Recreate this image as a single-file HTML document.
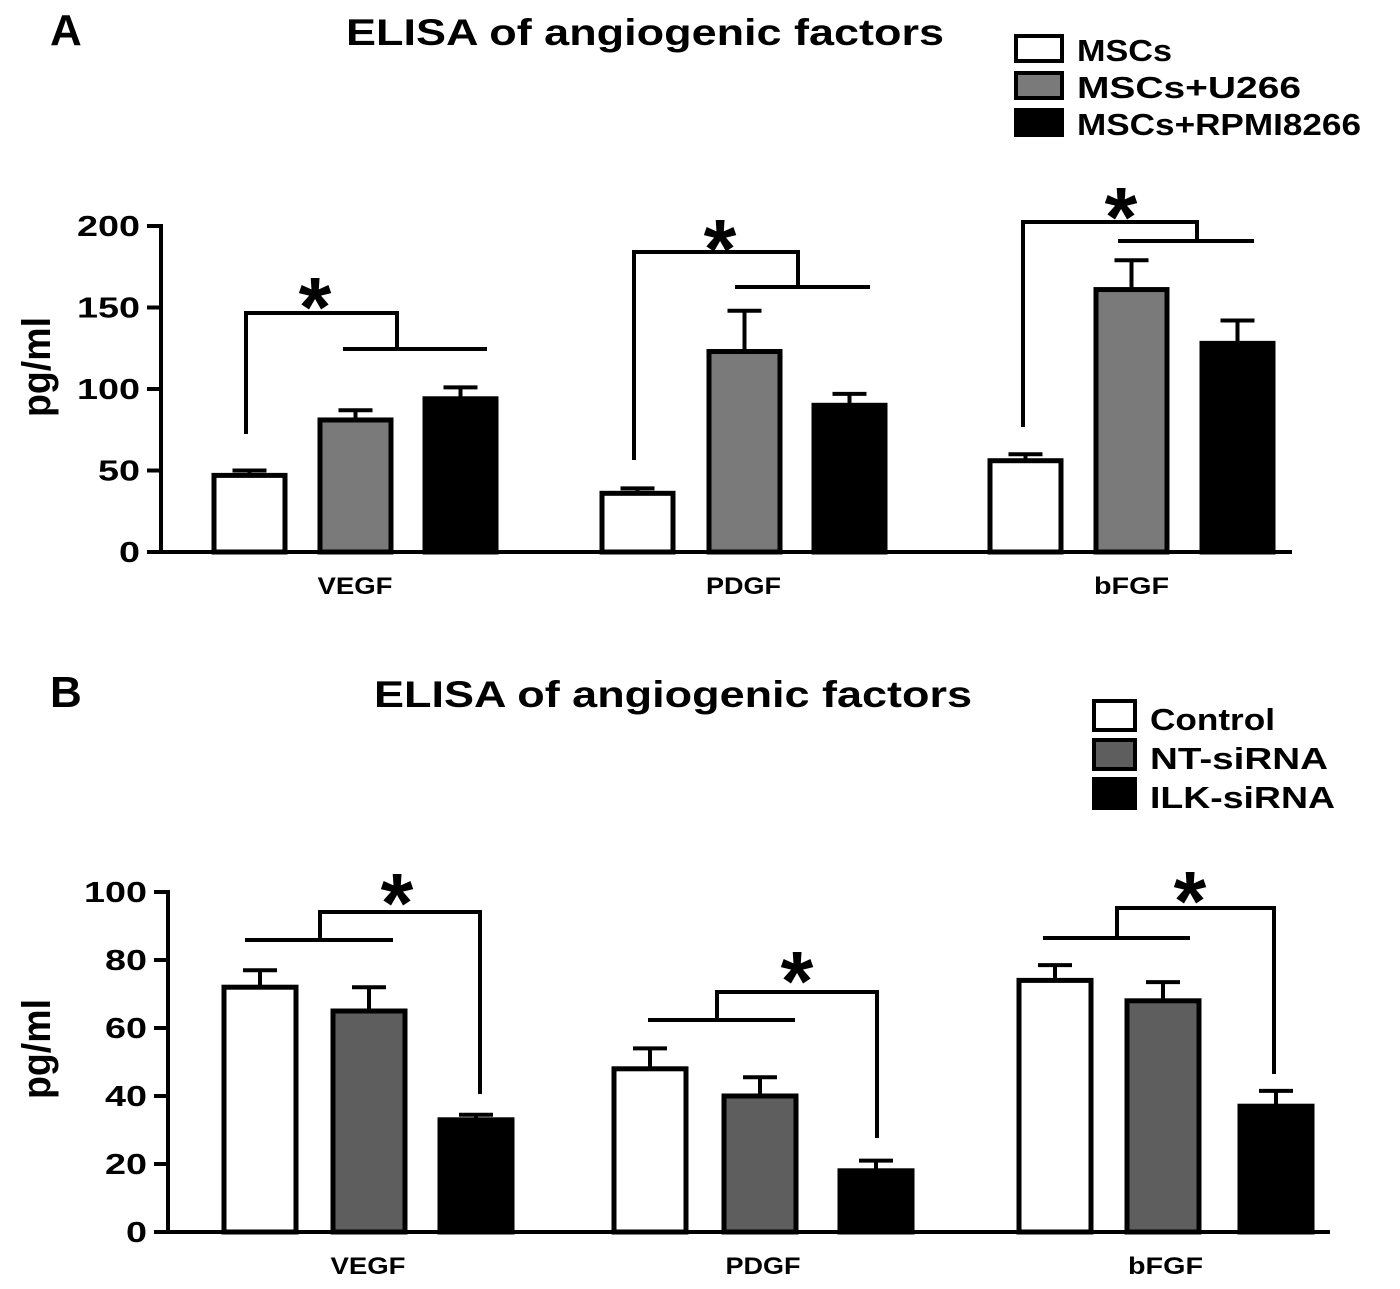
<!DOCTYPE html>
<html><head><meta charset="utf-8"><style>
body{margin:0;background:#fff}
svg text{font-family:"Liberation Sans",Arial,sans-serif;font-weight:bold}
</style></head><body>
<svg width="1400" height="1284" viewBox="0 0 1400 1284">
<g id="gA"></g>
<g id="gB"></g>
</svg>
<script>
const categories = ["VEGF","PDGF","bFGF"];
const aTicks = [0,50,100,150,200];
const aMSC = [47,36,56];
const aU266 = [81,123,161];
const aRPMI = [94,90,128];
const aMSCerr = [3,3,4];
const aU266err = [6,25,18];
const aRPMIerr = [7,7,14];
const bTicks = [0,20,40,60,80,100];
const bCtrl = [72,48,74];
const bNT = [65,40,68];
const bILK = [33,18,37];
const bCtrlErr = [5,6,4.5];
const bNTErr = [7,5.5,5.5];
const bILKErr = [1.5,3,4.5];

const NS="http://www.w3.org/2000/svg";
function mk(p,tag,attrs,txt){const e=document.createElementNS(NS,tag);for(const k in attrs)e.setAttribute(k,attrs[k]);if(txt!==undefined)e.textContent=txt;p.appendChild(e);return e;}
function fit(e,len){e.setAttribute('textLength',len);e.setAttribute('lengthAdjust','spacingAndGlyphs');}

function panel(g,cfg){
  const y=v=>cfg.y0-(v/cfg.max)*(cfg.y0-cfg.yTop);
  const lbl=mk(g,'text',{x:cfg.letterX,y:cfg.titleY,'font-size':44},cfg.letter);
  
  const t=mk(g,'text',{x:cfg.titleX,y:cfg.titleY,'font-size':37,'text-anchor':'middle'},"ELISA of angiogenic factors");
  fit(t,598);
  
  const yl=mk(g,'text',{x:0,y:0,'font-size':40,'text-anchor':'middle',transform:`translate(50,${cfg.ylabY}) rotate(-90)`},"pg/ml");
  fit(yl,100);
  
  mk(g,'line',{x1:cfg.ax,y1:cfg.yTop-2,x2:cfg.ax,y2:cfg.y0+2,stroke:'#000','stroke-width':4});
  mk(g,'line',{x1:cfg.ax-14,y1:cfg.y0,x2:cfg.xEnd,y2:cfg.y0,stroke:'#000','stroke-width':4});
  cfg.ticks.forEach(v=>{
    const l=mk(g,'line',{x1:cfg.ax-14,y1:y(v),x2:cfg.ax,y2:y(v),stroke:'#000','stroke-width':4});
    
    const tt=mk(g,'text',{x:cfg.ax-21,y:y(v)+10,'font-size':29,'text-anchor':'end'},v);
    fit(tt,String(v).length*21);
    
  });
  const fills=['#fff',cfg.gray,'#000'];
  cfg.series.forEach((s,si)=>{
    categories.forEach((c,ci)=>{
      const x=cfg.barX[ci][si], w=cfg.bw, top=y(s[ci]), et=y(s[ci]+cfg.errs[si][ci]);
      const cx=x+w/2;
      mk(g,'line',{x1:cx,y1:top,x2:cx,y2:et,stroke:'#000','stroke-width':4});
      mk(g,'line',{x1:cx-17,y1:et,x2:cx+17,y2:et,stroke:'#000','stroke-width':4});
      const r=mk(g,'rect',{x:x+2,y:top,width:w-4,height:cfg.y0-top,fill:fills[si],stroke:'#000','stroke-width':5});
      
      
    });
  });
  categories.forEach((c,ci)=>{
    const cx=(cfg.barX[ci][0]+cfg.barX[ci][2]+cfg.bw)/2;
    const tt=mk(g,'text',{x:cx,y:cfg.y0+42,'font-size':24,'text-anchor':'middle'},c);
    fit(tt,75);
    
  });
  cfg.brackets.forEach(p=>{
    const pl=mk(g,'polyline',{points:p.pts.map(q=>q.join(',')).join(' '),fill:'none',stroke:'#000','stroke-width':4});
    
    mk(g,'line',{x1:p.bar[0],y1:p.bar[2],x2:p.bar[1],y2:p.bar[2],stroke:'#000','stroke-width':4});
    const a=mk(g,'text',{x:p.star[0],y:p.star[1]+14,'font-size':84,'text-anchor':'middle'},'*');
    
  });
  cfg.legend.forEach((n,i)=>{
    const r=mk(g,'rect',{x:cfg.legX,y:cfg.legY+i*cfg.legDy,width:cfg.legW,height:cfg.legH,fill:fills[i],stroke:'#000','stroke-width':4});
    
    const tt=mk(g,'text',{x:cfg.legX+cfg.legW+15,y:cfg.legY+i*cfg.legDy+cfg.legH,'font-size':31},n);
    fit(tt,cfg.legLen[i]);
    
  });
}

panel(document.getElementById('gA'),{
  letter:'A',letterX:50,titleX:645,titleY:45,ylabY:367,
  ax:161,y0:552,yTop:226,max:200,xEnd:1292,ticks:aTicks,gray:'#7a7a7a',bw:75,
  barX:[[212,318,423],[600,707,812],[988,1094,1200]],
  series:[aMSC,aU266,aRPMI],errs:[aMSCerr,aU266err,aRPMIerr],
  brackets:[
    {pts:[[246,434],[246,313],[397,313],[397,349]],bar:[343,487,349],star:[315,322]},
    {pts:[[634,460],[634,252],[798,252],[798,287]],bar:[735,870,287],star:[720,264]},
    {pts:[[1023,427],[1023,222],[1197,222],[1197,241]],bar:[1118,1254,241],star:[1121,232]}],
  legend:['MSCs','MSCs+U266','MSCs+RPMI8266'],legLen:[95,224,284],legX:1016,legY:36,legDy:37,legW:46,legH:25
});
panel(document.getElementById('gB'),{
  letter:'B',letterX:50,titleX:673,titleY:707,ylabY:1049,
  ax:168,y0:1232,yTop:892,max:100,xEnd:1330,ticks:bTicks,gray:'#5e5e5e',bw:76,
  barX:[[222,331,438],[612,722,838],[1017,1125,1238]],
  series:[bCtrl,bNT,bILK],errs:[bCtrlErr,bNTErr,bILKErr],
  brackets:[
    {pts:[[320,940],[320,912],[480,912],[480,1094]],bar:[245,393,940],star:[397,918]},
    {pts:[[717,1020],[717,992],[877,992],[877,1138]],bar:[648,795,1020],star:[797,996]},
    {pts:[[1117,938],[1117,908],[1274,908],[1274,1074]],bar:[1043,1190,938],star:[1190,916]}],
  legend:['Control','NT-siRNA','ILK-siRNA'],legLen:[125,178,185],legX:1094,legY:701,legDy:39,legW:41,legH:29
});
</script>
</body></html>
